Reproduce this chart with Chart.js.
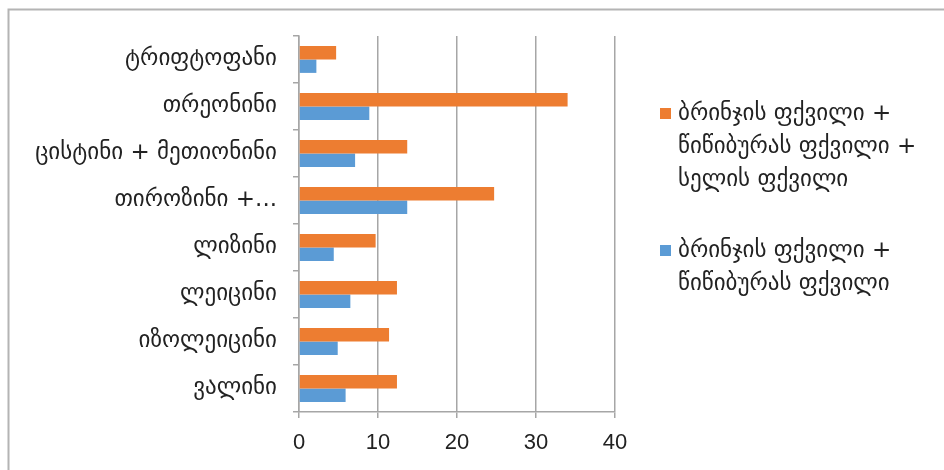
<!DOCTYPE html>
<html>
<head>
<meta charset="utf-8">
<script src="https://cdn.jsdelivr.net/npm/chart.js@4"></script>
<style>
  html, body { margin: 0; padding: 0; background: #fff; }
  #wrap { position: relative; width: 944px; height: 470px; }
</style>
</head>
<body>
<div id="wrap"><canvas id="chart" width="944" height="470"></canvas></div>
<script>
// კატეგორიები (ზემოდან ქვემოთ)
const categories = ['ტრიფტოფანი', 'თრეონინი', 'ცისტინი + მეთიონინი', 'თიროზინი +...', 'ლიზინი', 'ლეიცინი', 'იზოლეიცინი', 'ვალინი'];

// სერიების სახელები (ლეგენდისთვის სტრიქონებად)
const seriesThreeLines = ['ბრინჯის ფქვილი +', 'წიწიბურას ფქვილი +', 'სელის ფქვილი'];
const seriesTwoLines = ['ბრინჯის ფქვილი +', 'წიწიბურას ფქვილი'];

// მნიშვნელობები
const seriesThree = [4.7, 34.0, 13.7, 24.7, 9.7, 12.4, 11.4, 12.4];
const seriesTwo = [2.2, 8.9, 7.1, 13.7, 4.4, 6.5, 4.9, 5.9];

const xTicks = [0, 10, 20, 30, 40];

const georgianFont = '"DejaVu Sans", "Noto Sans", sans-serif';
const gridColor = '#a6a6a6';
const textColor = '#222';

// ჩარჩო
const framePlugin = {
    id: 'frame',
    beforeDraw(chart) {
        const ctx = chart.ctx;
        ctx.save();
        ctx.fillStyle = '#fff';
        ctx.fillRect(0, 0, chart.width, chart.height);
        ctx.strokeStyle = '#b4b4b4';
        ctx.lineWidth = 2;
        ctx.beginPath();
        ctx.moveTo(8.5, chart.height);
        ctx.lineTo(8.5, 9.5);
        ctx.lineTo(chart.width, 9.5);
        ctx.stroke();
        ctx.restore();
    }
};

// ლეგენდა მარჯვნივ, რამდენიმე სტრიქონად
const legendPlugin = {
    id: 'sideLegend',
    afterDraw(chart) {
        const ctx = chart.ctx;
        const blocks = [
            { lines: seriesThreeLines, color: chart.data.datasets[0].backgroundColor, top: 114 },
            { lines: seriesTwoLines, color: chart.data.datasets[1].backgroundColor, top: 251 },
        ];
        ctx.save();
        ctx.font = '23px ' + georgianFont;
        ctx.textBaseline = 'middle';
        blocks.forEach((b) => {
            ctx.fillStyle = b.color;
            ctx.fillRect(660, b.top - 6, 11, 11);
            ctx.fillStyle = textColor;
            b.lines.forEach((line, i) => {
                ctx.fillText(line, 678, b.top + i * 33);
            });
        });
        ctx.restore();
    }
};

new Chart(document.getElementById('chart'), {
    type: 'bar',
    data: {
        labels: categories,
        datasets: [
            {
                label: seriesThreeLines.join(' '),
                data: seriesThree,
                backgroundColor: '#ED7D31',
                barPercentage: 1,
                categoryPercentage: 0.57,
            },
            {
                label: seriesTwoLines.join(' '),
                data: seriesTwo,
                backgroundColor: '#5B9BD5',
                barPercentage: 1,
                categoryPercentage: 0.57,
            },
        ],
    },
    options: {
        indexAxis: 'y',
        responsive: false,
        animation: false,
        layout: { padding: { top: 36, right: 329, bottom: 0, left: 0 } },
        plugins: {
            legend: { display: false },
            tooltip: { enabled: false },
        },
        scales: {
            x: {
                min: 0,
                max: 40,
                afterBuildTicks: (scale) => { scale.ticks = xTicks.map((v) => ({ value: v })); },
                afterFit: (scale) => { scale.height = 58; },
                grid: { color: gridColor, lineWidth: 1.5, tickLength: 6, drawTicks: true },
                border: { color: gridColor, width: 1.5 },
                ticks: {
                    color: textColor,
                    padding: 12,
                    font: { family: '"Liberation Sans", Arial, sans-serif', size: 22 },
                },
            },
            y: {
                afterFit: (scale) => { scale.width = 299; },
                grid: { drawOnChartArea: false, drawTicks: true, tickLength: 6, offset: true, color: gridColor, lineWidth: 1.5 },
                border: { color: gridColor, width: 1.5 },
                ticks: {
                    color: textColor,
                    padding: 16,
                    font: { family: georgianFont, size: 23 },
                },
            },
        },
    },
    plugins: [framePlugin, legendPlugin],
});
</script>
</body>
</html>
